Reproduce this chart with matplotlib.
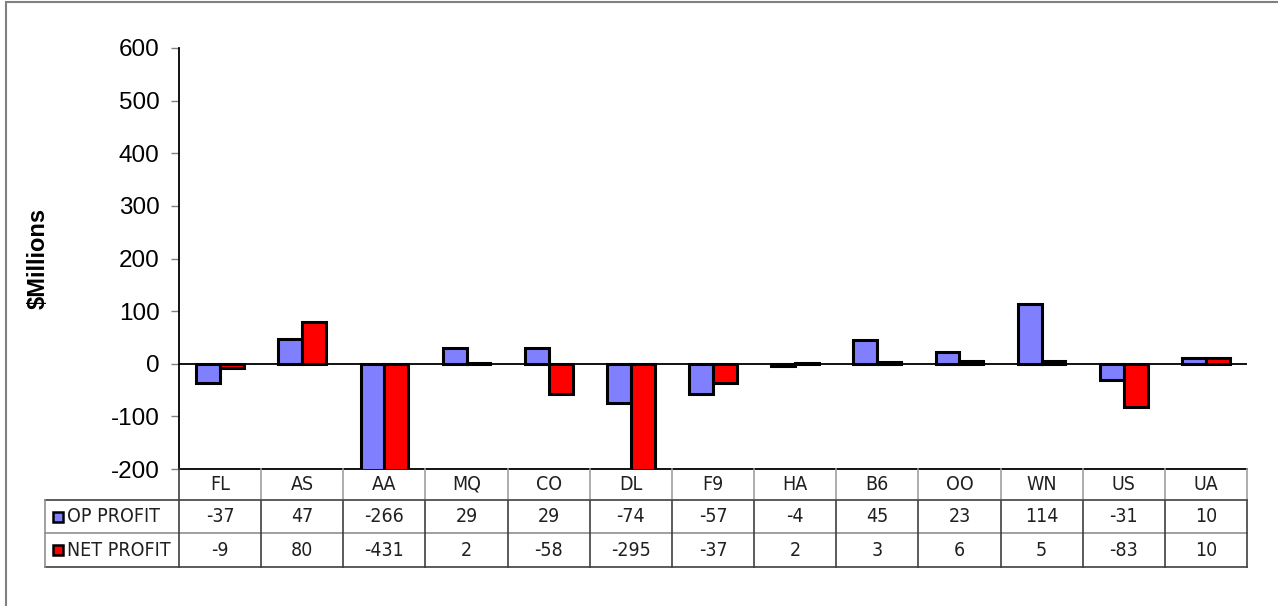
import matplotlib
matplotlib.use("Agg")
import matplotlib.pyplot as plt
from matplotlib.lines import Line2D
from matplotlib.patches import Rectangle
from matplotlib import font_manager
import numpy as np

categories = ["FL", "AS", "AA", "MQ", "CO", "DL", "F9", "HA", "B6", "OO", "WN", "US", "UA"]
op_profit = [-37, 47, -266, 29, 29, -74, -57, -4, 45, 23, 114, -31, 10]
net_profit = [-9, 80, -431, 2, -58, -295, -37, 2, 3, 6, 5, -83, 10]
series_names = ["OP PROFIT", "NET PROFIT"]
series_colors = ["#8080FF", "#FF0000"]
yticks = [-200, -100, 0, 100, 200, 300, 400, 500, 600]

W, H = 1278, 606
fig = plt.figure(figsize=(W / 100, H / 100), dpi=100)
fig.patch.set_facecolor("white")

def fx(px):
    return px / W

def fy(py):
    return 1 - py / H

left_px, right_px, top_px, bot_px = 179, 1247, 48, 469
ax = fig.add_axes([fx(left_px), fy(bot_px), fx(right_px) - fx(left_px), fy(top_px) - fy(bot_px)])

n = len(categories)
x = np.arange(n)
bw = 0.29
ax.bar(x - bw / 2, op_profit, width=bw, color=series_colors[0], edgecolor="black", linewidth=2.2, zorder=3)
ax.bar(x + bw / 2, net_profit, width=bw, color=series_colors[1], edgecolor="black", linewidth=2.2, zorder=3)
ax.axhline(0, color="black", linewidth=1.3, zorder=4)

ax.set_xlim(-0.5, n - 0.5)
ax.set_ylim(-200, 600)
ax.set_yticks(yticks)
ax.set_yticklabels([str(v) for v in yticks], fontsize=17.5, family="Liberation Sans")
ax.set_xticks([])
for s in ["top", "right"]:
    ax.spines[s].set_visible(False)
ax.spines["left"].set_linewidth(1.3)
ax.spines["bottom"].set_linewidth(1.3)
ax.tick_params(axis="y", direction="out", length=6, width=1, color="#808080", pad=8)
ax.set_ylabel(r"\$Millions", fontsize=17, fontweight="bold", family="Liberation Sans", labelpad=44)

# Data table font: prefer a condensed upright face
names = {f.name for f in font_manager.fontManager.ttflist}
cond = [f for f in font_manager.fontManager.ttflist
        if f.name == "DejaVu Sans" and "condensed" in str(f.stretch).lower()
        and f.style == "normal" and f.weight in (400, "normal", "regular", "book")]
if "Liberation Sans Narrow" in names:
    tprops = dict(family="Liberation Sans Narrow")
    tsize = 15
elif cond:
    tprops = dict(fname=cond[0].fname)
    tsize = 14
else:
    tprops = dict(family="Liberation Sans")
    tsize = 13
tfp = font_manager.FontProperties(size=tsize, **tprops)

col_w = (right_px - left_px) / n
row_y = [469, 500, 533, 567]
tab_left = 45
lc = "#404040"

def hline(y, x0, x1, color=lc, lw=1.2):
    fig.add_artist(Line2D([fx(x0), fx(x1)], [fy(y), fy(y)], color=color, lw=lw))

def vline(xp, y0, y1, color=lc, lw=1.2):
    fig.add_artist(Line2D([fx(xp), fx(xp)], [fy(y0), fy(y1)], color=color, lw=lw))

hline(row_y[1], tab_left, right_px)
hline(row_y[2], tab_left, right_px, color="#909090")
hline(row_y[3], tab_left, right_px)
vline(tab_left, row_y[1], row_y[3], color="#909090")
vline(left_px, row_y[0], row_y[3])
for i in range(1, n + 1):
    xp = left_px + i * col_w
    vline(xp, row_y[0], row_y[1], color="#A0A0A0")
    vline(xp, row_y[1], row_y[3])

for i, c in enumerate(categories):
    cx = left_px + (i + 0.5) * col_w
    fig.text(fx(cx), fy((row_y[0] + row_y[1]) / 2), c, ha="center", va="center",
             fontproperties=tfp, color="#202020")
    fig.text(fx(cx), fy((row_y[1] + row_y[2]) / 2), str(op_profit[i]), ha="center", va="center",
             fontproperties=tfp, color="#202020")
    fig.text(fx(cx), fy((row_y[2] + row_y[3]) / 2), str(net_profit[i]), ha="center", va="center",
             fontproperties=tfp, color="#202020")

for r, (name, col) in enumerate(zip(series_names, series_colors)):
    yc = (row_y[r + 1] + row_y[r + 2]) / 2
    sq = 10
    fig.add_artist(Rectangle((fx(53), fy(yc + sq / 2)), fx(sq), fy(0) - fy(sq),
                             facecolor=col, edgecolor="black", lw=1.8))
    fig.text(fx(67), fy(yc), name, ha="left", va="center", fontproperties=tfp, color="#202020")

# outer chart border
fig.add_artist(Rectangle((fx(6), fy(H + 10)), fx(W + 10), fy(2) - fy(H + 10),
                         facecolor="none", edgecolor="#808080", lw=1.5))

fig.savefig("out.png", dpi=100, facecolor="white")
